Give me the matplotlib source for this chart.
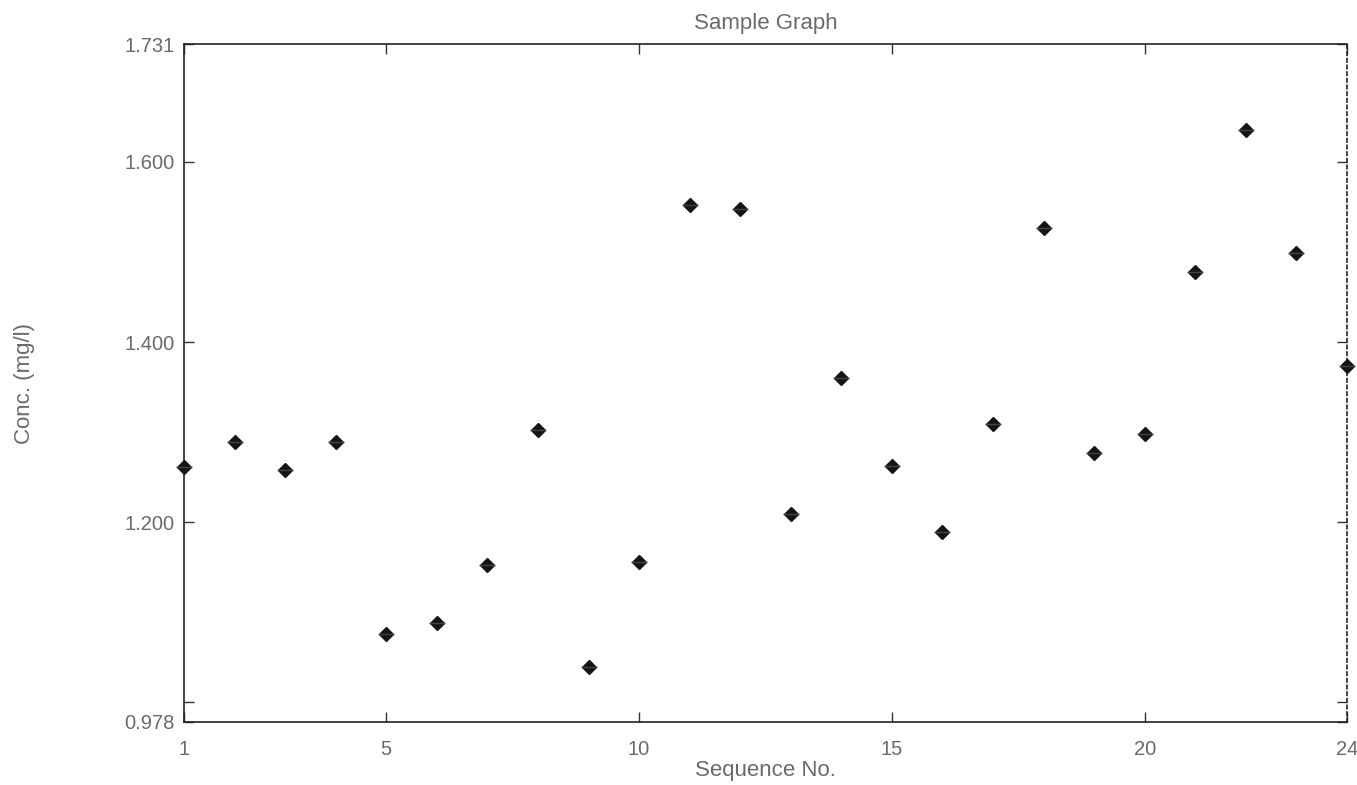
import matplotlib
matplotlib.use("Agg")
from matplotlib import pyplot as plt

plt.rcParams['font.family'] = ['Liberation Sans', 'DejaVu Sans']

# data
sequence = list(range(1, 25))
conc = [1.261, 1.289, 1.258, 1.289, 1.076, 1.088, 1.152, 1.302,
        1.039, 1.156, 1.552, 1.548, 1.209, 1.360, 1.262, 1.189,
        1.309, 1.527, 1.277, 1.298, 1.478, 1.635, 1.499, 1.373]

y_ticks = [0.978, 1.0, 1.2, 1.4, 1.6, 1.731]
y_labels = ['0.978', '', '1.200', '1.400', '1.600', '1.731']
x_ticks = [1, 5, 10, 15, 20, 24]

fig = plt.figure(figsize=(13.57, 7.85), dpi=100)
ax = fig.add_axes([0.1356, 0.0803, 0.857, 0.8636])

ax.plot(sequence, conc, linestyle='none', marker='D', markersize=7,
        color='#151515', clip_on=False, zorder=3)
ax.plot(sequence, conc, linestyle='none', marker='_', markersize=11,
        markeredgewidth=1.0, color='#444444', clip_on=False, zorder=4)

ax.set_xlim(1, 24)
ax.set_ylim(0.978, 1.731)
ax.set_xticks(x_ticks)
ax.set_xticklabels([str(t) for t in x_ticks])
ax.set_yticks(y_ticks)
ax.set_yticklabels(y_labels)

ax.tick_params(direction='in', top=True, right=True, length=7, width=1,
               labelsize=14.5, colors='#333333', labelcolor='#6a6a6a')
ax.tick_params(axis='x', pad=13)
ax.tick_params(axis='y', pad=7)
for side in ax.spines.values():
    side.set_linewidth(1.2)
    side.set_color('#222222')
ax.spines['left'].set_linestyle((0, (4, 1)))
ax.spines['right'].set_linestyle((0, (2, 2)))

ax.set_title("Sample Graph", fontsize=16, color='#6a6a6a', pad=11)
ax.set_xlabel("Sequence No.", fontsize=16, color='#6a6a6a', labelpad=1)
ax.set_ylabel("Conc. (mg/l)", fontsize=16, color='#6a6a6a', labelpad=64)

fig.savefig("out.png", dpi=100)
